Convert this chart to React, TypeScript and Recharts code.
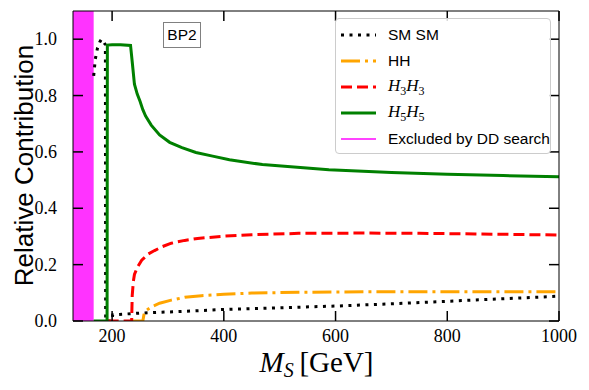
import React from 'react';
import { ComposedChart, Line, XAxis, YAxis, ReferenceArea, Legend } from 'recharts';

// ---------- data ----------
const xTicks = [200, 400, 600, 800, 1000];
const yTicks = [0, 0.2, 0.4, 0.6, 0.8, 1.0];
const xDomain = [130, 1000];
const yDomain = [0, 1.1];
const excludedFrom = 130;
const excludedTo = 167;

const smMass = [167, 168, 170, 174, 178, 181, 185, 188, 188.5, 200, 201, 250, 300, 350, 400, 500, 600, 700, 800, 900, 1000];
const smValue = [0.87, 0.89, 0.93, 0.97, 0.99, 1.0, 0.99, 0.98, 0, 0, 0.022, 0.028, 0.032, 0.036, 0.041, 0.047, 0.053, 0.061, 0.07, 0.079, 0.088];

const hhMass = [234, 255, 257, 260, 270, 285, 306, 330, 360, 400, 450, 534, 600, 712, 800, 900, 1000];
const hhValue = [0, 0, 0.022, 0.036, 0.05, 0.063, 0.074, 0.084, 0.09, 0.095, 0.099, 0.102, 0.103, 0.104, 0.104, 0.104, 0.104];

const h3Mass = [192, 235, 236, 238, 240, 245, 253, 265, 276, 290, 306, 330, 353, 400, 450, 534, 650, 750, 850, 1000];
const h3Value = [0, 0, 0.09, 0.14, 0.165, 0.19, 0.216, 0.238, 0.25, 0.264, 0.276, 0.286, 0.293, 0.301, 0.306, 0.311, 0.312, 0.311, 0.309, 0.305];

const h5Mass = [167, 191, 191.5, 200, 215, 233, 236, 240, 245, 250, 255, 260, 270, 285, 303, 325, 350, 380, 410, 469, 588, 700, 800, 900, 1000];
const h5Value = [0, 0, 0.979, 0.98, 0.98, 0.978, 0.92, 0.84, 0.805, 0.78, 0.75, 0.727, 0.695, 0.66, 0.634, 0.615, 0.598, 0.585, 0.572, 0.555, 0.537, 0.527, 0.521, 0.516, 0.512];

const annotation = 'BP2';
const yTitle = 'Relative Contribution';

// ---------- helpers ----------
const W = 589;
const H = 390;
const SERIF = 'Liberation Serif';
const SANS = 'Liberation Sans';
const TICK = 10;
const TW = 1.5;

const toPoints = (xs: number[], ys: number[]) => xs.map((m, i) => ({ m, v: ys[i] }));

const smData = toPoints(smMass, smValue);
const hhData = toPoints(hhMass, hhValue);
const h3Data = toPoints(h3Mass, h3Value);
const h5Data = toPoints(h5Mass, h5Value);

const bottomTick = (props: any) => {
  const { x, y, payload } = props;
  return (
    <g key={`b${payload.value}`}>
      <line x1={x} x2={x} y1={y} y2={y - TICK} stroke="#000" strokeWidth={TW} />
      <text x={x} y={y + 21} textAnchor="middle" style={{ fontFamily: SERIF, fontSize: 18 }} fill="#000">
        {payload.value}
      </text>
    </g>
  );
};

const topTick = (props: any) => {
  const { x, y, payload } = props;
  return <line key={`t${payload.value}`} x1={x} x2={x} y1={y} y2={y + TICK} stroke="#000" strokeWidth={TW} />;
};

const leftTick = (props: any) => {
  const { x, y, payload } = props;
  return (
    <g key={`l${payload.value}`}>
      <line x1={x} x2={x + TICK} y1={y} y2={y} stroke="#000" strokeWidth={TW} />
      <text x={x - 16} y={y + 6} textAnchor="end" style={{ fontFamily: SERIF, fontSize: 18 }} fill="#000">
        {Number(payload.value).toFixed(1)}
      </text>
    </g>
  );
};

const rightTick = (props: any) => {
  const { x, y, payload } = props;
  return <line key={`r${payload.value}`} x1={x} x2={x - TICK} y1={y} y2={y} stroke="#000" strokeWidth={TW} />;
};

const legendItems = [
  { key: 'sm', color: '#000000', dash: '3 5.5', label: <span>SM SM</span> },
  { key: 'hh', color: '#ffa500', dash: '19 5 3 5', label: <span>HH</span> },
  {
    key: 'h3',
    color: '#ff0000',
    dash: '11 5',
    label: (
      <span style={{ fontFamily: SERIF, fontSize: 17 }}>
        <i>H</i><sub style={{ fontSize: 12 }}>3</sub><i>H</i><sub style={{ fontSize: 12 }}>3</sub>
      </span>
    ),
  },
  {
    key: 'h5',
    color: '#008000',
    dash: undefined,
    label: (
      <span style={{ fontFamily: SERIF, fontSize: 17 }}>
        <i>H</i><sub style={{ fontSize: 12 }}>5</sub><i>H</i><sub style={{ fontSize: 12 }}>5</sub>
      </span>
    ),
  },
  { key: 'dd', color: '#ff44ff', dash: undefined, label: <span>Excluded by DD search</span>, thin: true },
];

const Overlay = () => (
  <div style={{ position: 'relative', width: W, height: H, pointerEvents: 'none' }}>
    <svg width={W} height={H} style={{ position: 'absolute', left: 0, top: 0 }}>
      <text x={316.5} y={372} textAnchor="middle" style={{ fontFamily: SERIF, fontSize: 29 }} fill="#000">
        <tspan fontStyle="italic">M</tspan>
        <tspan fontStyle="italic" style={{ fontSize: 20 }} dy={5}>S</tspan>
        <tspan dy={-5}>{'\u2009[GeV]'}</tspan>
      </text>
      <text x={33} y={165.5} transform="rotate(-90 33 165.5)" textAnchor="middle"
        style={{ fontFamily: SANS, fontSize: 26 }} fill="#000">
        {yTitle}
      </text>
    </svg>
    <div
      style={{
        position: 'absolute',
        left: 163,
        top: 22,
        width: 38,
        height: 26,
        border: '1.3px solid #808080',
        boxSizing: 'border-box',
        background: '#fff',
        fontFamily: SANS,
        fontSize: 15.5,
        color: '#000',
        display: 'flex',
        alignItems: 'center',
        justifyContent: 'center',
        lineHeight: 1,
      }}
    >
      {annotation}
    </div>
    <div
      style={{
        position: 'absolute',
        left: 335,
        top: 18,
        width: 216,
        height: 136,
        border: '1px solid #cccccc',
        borderRadius: 4,
        boxSizing: 'border-box',
        background: 'rgba(255,255,255,0.85)',
      }}
    >
      {legendItems.map((it, i) => {
        const cy = 16 + i * 26;
        return (
          <div key={it.key} style={{ position: 'absolute', left: 0, top: cy - 12, height: 24, width: 214 }}>
            <svg width={45} height={24} style={{ position: 'absolute', left: 0, top: 0 }}>
              <line x1={5} x2={40} y1={12} y2={12} stroke={it.color} strokeWidth={it.thin ? 2 : 3}
                strokeDasharray={it.dash} />
            </svg>
            <div
              style={{
                position: 'absolute',
                left: 52,
                top: 0,
                height: 24,
                display: 'flex',
                alignItems: 'center',
                fontFamily: SANS,
                fontSize: 15.5,
                color: '#000',
                whiteSpace: 'nowrap',
                lineHeight: 1,
              }}
            >
              {it.label}
            </div>
          </div>
        );
      })}
    </div>
  </div>
);

export default function App() {
  return (
    <div style={{ width: W, height: H, position: 'relative', background: '#fff' }}>
      <style>{'body{margin:0;}'}</style>
      <ComposedChart width={W} height={H} margin={{ top: 10, right: 29, left: 0, bottom: 0 }}>
        <ReferenceArea xAxisId="b" yAxisId="l" x1={excludedFrom} x2={excludedTo} y1={yDomain[0]} y2={yDomain[1]}
          fill="#ff33ff" fillOpacity={1} stroke="none" ifOverflow="hidden" />
        <XAxis xAxisId="b" type="number" dataKey="m" domain={xDomain} ticks={xTicks} allowDataOverflow
          height={69} tickLine={false} tickSize={0} tickMargin={0} stroke="#000" tick={bottomTick} />
        <XAxis xAxisId="t" orientation="top" type="number" dataKey="m" domain={xDomain} ticks={xTicks} allowDataOverflow
          height={1} tickLine={false} tickSize={0} tickMargin={0} stroke="#000" tick={topTick} />
        <YAxis yAxisId="l" type="number" domain={yDomain} ticks={yTicks} allowDataOverflow width={73}
          tickLine={false} tickSize={0} tickMargin={0} stroke="#000" tick={leftTick} />
        <YAxis yAxisId="r" orientation="right" type="number" domain={yDomain} ticks={yTicks} allowDataOverflow width={1}
          tickLine={false} tickSize={0} tickMargin={0} stroke="#000" tick={rightTick} />
        <Line xAxisId="b" yAxisId="l" data={smData} dataKey="v" type="linear" stroke="#000000" strokeWidth={3}
          strokeDasharray="3 5.5" dot={false} isAnimationActive={false} />
        <Line xAxisId="b" yAxisId="l" data={hhData} dataKey="v" type="linear" stroke="#ffa500" strokeWidth={3}
          strokeDasharray="19 5 3 5" dot={false} isAnimationActive={false} />
        <Line xAxisId="b" yAxisId="l" data={h3Data} dataKey="v" type="linear" stroke="#ff0000" strokeWidth={3}
          strokeDasharray="11 5" dot={false} isAnimationActive={false} />
        <Line xAxisId="b" yAxisId="l" data={h5Data} dataKey="v" type="linear" stroke="#008000" strokeWidth={3}
          dot={false} isAnimationActive={false} />
        <Legend
          layout="vertical"
          align="center"
          verticalAlign="middle"
          wrapperStyle={{ position: 'absolute', left: 0, top: 0, width: W, height: H, pointerEvents: 'none' }}
          content={() => <Overlay />}
        />
      </ComposedChart>
    </div>
  );
}
